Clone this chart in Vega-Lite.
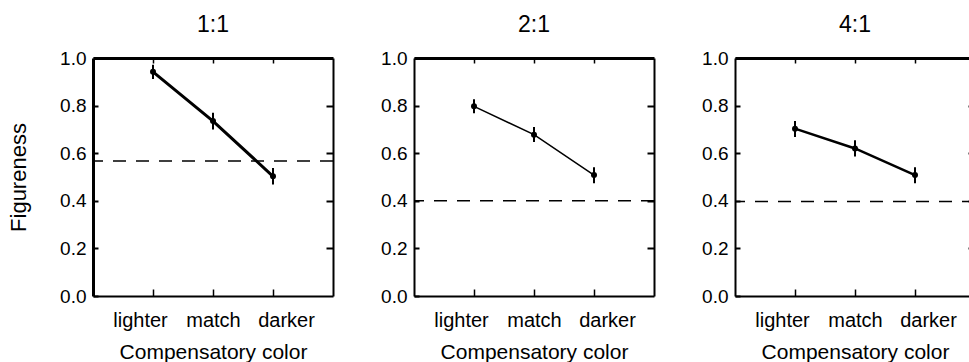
{
  "$schema": "https://vega.github.io/schema/vega-lite/v6.json",
  "padding": {"left": 7, "top": 14, "right": 0, "bottom": 0},
  "background": "white",
  "spacing": 81,
  "bounds": "flush",
  "config": {
    "font": "Liberation Sans",
    "view": {"stroke": null},
    "axis": {"grid": false, "domainColor": "black", "tickColor": "black", "labelColor": "black", "titleColor": "black", "labelFont": "Liberation Sans", "titleFont": "Liberation Sans", "titleFontWeight": "normal", "labelFlush": false, "labelOverlap": false},
    "title": {"fontSize": 23, "fontWeight": "normal", "color": "black", "font": "Liberation Sans", "offset": 12}
  },
  "datasets": {
    "means": [
      {"ratio": "1:1", "pos": 1, "mean": 0.942, "lo": 0.912, "hi": 0.972},
      {"ratio": "1:1", "pos": 2, "mean": 0.735, "lo": 0.700, "hi": 0.770},
      {"ratio": "1:1", "pos": 3, "mean": 0.503, "lo": 0.468, "hi": 0.538},
      {"ratio": "2:1", "pos": 1, "mean": 0.797, "lo": 0.768, "hi": 0.827},
      {"ratio": "2:1", "pos": 2, "mean": 0.678, "lo": 0.647, "hi": 0.710},
      {"ratio": "2:1", "pos": 3, "mean": 0.508, "lo": 0.474, "hi": 0.541},
      {"ratio": "4:1", "pos": 1, "mean": 0.703, "lo": 0.668, "hi": 0.735},
      {"ratio": "4:1", "pos": 2, "mean": 0.620, "lo": 0.586, "hi": 0.654},
      {"ratio": "4:1", "pos": 3, "mean": 0.508, "lo": 0.474, "hi": 0.541}
    ],
    "chance": [
      {"ratio": "1:1", "level": 0.567},
      {"ratio": "2:1", "level": 0.400},
      {"ratio": "4:1", "level": 0.397}
    ]
  },
  "hconcat": [
    {
      "width": 240, "height": 238,
      "title": "1:1",
      "resolve": {"axis": {"x": "independent", "y": "independent"}},
      "layer": [
        {
          "data": {"name": "chance"},
          "transform": [{"filter": "datum.ratio == '1:1'"}],
          "mark": {"type": "rule", "strokeDash": [13, 10], "strokeWidth": 1.5, "color": "black"},
          "encoding": {
            "y": {"field": "level", "type": "quantitative", "scale": {"domain": [0, 1], "nice": false},
              "axis": {"orient": "left", "values": [0, 0.2, 0.4, 0.6, 0.8, 1], "format": ".1f", "domainWidth": 3, "tickWidth": 2, "tickSize": -5, "labelPadding": 12, "labelFontSize": 19, "title": "Figureness", "titleFontSize": 22, "titlePadding": 29}}
          }
        },
        {
          "data": {"name": "means"},
          "transform": [{"filter": "datum.ratio == '1:1'"}],
          "mark": {"type": "rule", "strokeWidth": 2, "color": "black"},
          "encoding": {
            "x": {"field": "pos", "type": "quantitative", "scale": {"domain": [0, 4], "nice": false},
              "axis": {"orient": "top", "values": [1, 2, 3], "labels": false, "domainWidth": 3, "tickWidth": 1.5, "tickSize": -5, "title": null}},
            "y": {"field": "lo", "type": "quantitative", "scale": {"domain": [0, 1], "nice": false},
              "axis": {"orient": "right", "values": [0.2, 0.4, 0.6, 0.8], "labels": false, "domainWidth": 2, "tickWidth": 2, "tickSize": -7, "title": null}},
            "y2": {"field": "hi"}
          }
        },
        {
          "data": {"name": "means"},
          "transform": [{"filter": "datum.ratio == '1:1'"}],
          "mark": {"type": "line", "strokeWidth": 3, "color": "black"},
          "encoding": {
            "x": {"field": "pos", "type": "quantitative", "scale": {"domain": [0, 4], "nice": false},
              "axis": {"orient": "bottom", "values": [1, 2, 3], "labelExpr": "datum.value == 1 ? 'lighter' : datum.value == 2 ? 'match' : 'darker'", "labelOffset": {"condition": [{"test": "datum.value == 1", "value": -13}, {"test": "datum.value == 3", "value": 13}], "value": 0}, "domainWidth": 2, "tickWidth": 1.5, "tickSize": -7, "labelPadding": 21, "labelFontSize": 20, "title": "Compensatory color", "titleFontSize": 21, "titlePadding": 11}},
            "y": {"field": "mean", "type": "quantitative", "scale": {"domain": [0, 1], "nice": false}, "axis": null}
          }
        },
        {
          "data": {"name": "means"},
          "transform": [{"filter": "datum.ratio == '1:1'"}],
          "mark": {"type": "point", "filled": true, "size": 36, "color": "black", "opacity": 1},
          "encoding": {
            "x": {"field": "pos", "type": "quantitative", "axis": null},
            "y": {"field": "mean", "type": "quantitative", "axis": null}
          }
        }
      ]
    },
    {
      "width": 240, "height": 238,
      "title": "2:1",
      "resolve": {"axis": {"x": "independent", "y": "independent"}},
      "layer": [
        {
          "data": {"name": "chance"},
          "transform": [{"filter": "datum.ratio == '2:1'"}],
          "mark": {"type": "rule", "strokeDash": [13, 10], "strokeWidth": 1.5, "color": "black"},
          "encoding": {
            "y": {"field": "level", "type": "quantitative", "scale": {"domain": [0, 1], "nice": false},
              "axis": {"orient": "left", "values": [0, 0.2, 0.4, 0.6, 0.8, 1], "format": ".1f", "domainWidth": 2, "tickWidth": 2, "tickSize": -5, "labelPadding": 12, "labelFontSize": 19, "title": null}}
          }
        },
        {
          "data": {"name": "means"},
          "transform": [{"filter": "datum.ratio == '2:1'"}],
          "mark": {"type": "rule", "strokeWidth": 2, "color": "black"},
          "encoding": {
            "x": {"field": "pos", "type": "quantitative", "scale": {"domain": [0, 4], "nice": false},
              "axis": {"orient": "top", "values": [1, 2, 3], "labels": false, "domainWidth": 3, "tickWidth": 1.5, "tickSize": -5, "title": null}},
            "y": {"field": "lo", "type": "quantitative", "scale": {"domain": [0, 1], "nice": false},
              "axis": {"orient": "right", "values": [0.2, 0.4, 0.6, 0.8], "labels": false, "domainWidth": 2, "tickWidth": 2, "tickSize": -7, "title": null}},
            "y2": {"field": "hi"}
          }
        },
        {
          "data": {"name": "means"},
          "transform": [{"filter": "datum.ratio == '2:1'"}],
          "mark": {"type": "line", "strokeWidth": 1.5, "color": "black"},
          "encoding": {
            "x": {"field": "pos", "type": "quantitative", "scale": {"domain": [0, 4], "nice": false},
              "axis": {"orient": "bottom", "values": [1, 2, 3], "labelExpr": "datum.value == 1 ? 'lighter' : datum.value == 2 ? 'match' : 'darker'", "labelOffset": {"condition": [{"test": "datum.value == 1", "value": -13}, {"test": "datum.value == 3", "value": 13}], "value": 0}, "domainWidth": 2, "tickWidth": 1.5, "tickSize": -7, "labelPadding": 21, "labelFontSize": 20, "title": "Compensatory color", "titleFontSize": 21, "titlePadding": 11}},
            "y": {"field": "mean", "type": "quantitative", "scale": {"domain": [0, 1], "nice": false}, "axis": null}
          }
        },
        {
          "data": {"name": "means"},
          "transform": [{"filter": "datum.ratio == '2:1'"}],
          "mark": {"type": "point", "filled": true, "size": 36, "color": "black", "opacity": 1},
          "encoding": {
            "x": {"field": "pos", "type": "quantitative", "axis": null},
            "y": {"field": "mean", "type": "quantitative", "axis": null}
          }
        }
      ]
    },
    {
      "width": 240, "height": 238,
      "title": "4:1",
      "resolve": {"axis": {"x": "independent", "y": "independent"}},
      "layer": [
        {
          "data": {"name": "chance"},
          "transform": [{"filter": "datum.ratio == '4:1'"}],
          "mark": {"type": "rule", "strokeDash": [13, 10], "strokeWidth": 1.5, "color": "black"},
          "encoding": {
            "y": {"field": "level", "type": "quantitative", "scale": {"domain": [0, 1], "nice": false},
              "axis": {"orient": "left", "values": [0, 0.2, 0.4, 0.6, 0.8, 1], "format": ".1f", "domainWidth": 2, "tickWidth": 2, "tickSize": -5, "labelPadding": 12, "labelFontSize": 19, "title": null}}
          }
        },
        {
          "data": {"name": "means"},
          "transform": [{"filter": "datum.ratio == '4:1'"}],
          "mark": {"type": "rule", "strokeWidth": 2, "color": "black"},
          "encoding": {
            "x": {"field": "pos", "type": "quantitative", "scale": {"domain": [0, 4], "nice": false},
              "axis": {"orient": "top", "values": [1, 2, 3], "labels": false, "domainWidth": 3, "tickWidth": 1.5, "tickSize": -5, "title": null}},
            "y": {"field": "lo", "type": "quantitative", "scale": {"domain": [0, 1], "nice": false},
              "axis": {"orient": "right", "values": [0.2, 0.4, 0.6, 0.8], "labels": false, "domainWidth": 2, "tickWidth": 2, "tickSize": -7, "title": null}},
            "y2": {"field": "hi"}
          }
        },
        {
          "data": {"name": "means"},
          "transform": [{"filter": "datum.ratio == '4:1'"}],
          "mark": {"type": "line", "strokeWidth": 2.5, "color": "black"},
          "encoding": {
            "x": {"field": "pos", "type": "quantitative", "scale": {"domain": [0, 4], "nice": false},
              "axis": {"orient": "bottom", "values": [1, 2, 3], "labelExpr": "datum.value == 1 ? 'lighter' : datum.value == 2 ? 'match' : 'darker'", "labelOffset": {"condition": [{"test": "datum.value == 1", "value": -13}, {"test": "datum.value == 3", "value": 13}], "value": 0}, "domainWidth": 2, "tickWidth": 1.5, "tickSize": -7, "labelPadding": 21, "labelFontSize": 20, "title": "Compensatory color", "titleFontSize": 21, "titlePadding": 11}},
            "y": {"field": "mean", "type": "quantitative", "scale": {"domain": [0, 1], "nice": false}, "axis": null}
          }
        },
        {
          "data": {"name": "means"},
          "transform": [{"filter": "datum.ratio == '4:1'"}],
          "mark": {"type": "point", "filled": true, "size": 36, "color": "black", "opacity": 1},
          "encoding": {
            "x": {"field": "pos", "type": "quantitative", "axis": null},
            "y": {"field": "mean", "type": "quantitative", "axis": null}
          }
        }
      ]
    }
  ]
}
